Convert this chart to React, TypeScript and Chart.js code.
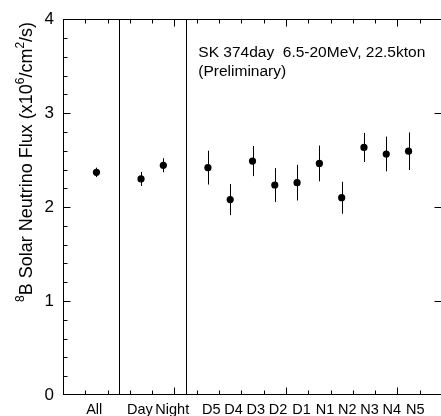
import React, { useEffect, useRef } from "react";
import { Chart, registerables } from "chart.js";

Chart.register(...registerables);

const categories = ["All", "Day", "Night", "D5", "D4", "D3", "D2", "D1", "N1", "N2", "N3", "N4", "N5"];
const xPositions = [1.5, 3.5, 4.5, 6.5, 7.5, 8.5, 9.5, 10.5, 11.5, 12.5, 13.5, 14.5, 15.5];
const labelPositions = [1.4, 3.45, 4.9, 6.65, 7.65, 8.65, 9.65, 10.7, 11.75, 12.75, 13.75, 14.75, 15.8];
const flux = [2.37, 2.3, 2.445, 2.42, 2.08, 2.49, 2.235, 2.26, 2.465, 2.1, 2.635, 2.565, 2.595];
const fluxErr = [0.05, 0.075, 0.075, 0.18, 0.165, 0.16, 0.18, 0.19, 0.19, 0.17, 0.155, 0.185, 0.2];
const separators = [2.5, 5.5];
const yTicks = [0, 1, 2, 3, 4];
const annotation = ["SK 374day  6.5-20MeV, 22.5kton", "(Preliminary)"];
const titleParts: [string, boolean][] = [
  ["8", true],
  ["B Solar Neutrino Flux (x10", false],
  ["6", true],
  ["/cm", false],
  ["2", true],
  ["/s)", false],
];

const FONT = "'Liberation Sans', Arial, Helvetica, sans-serif";

const framePlugin = {
  id: "framePlugin",
  beforeDatasetsDraw(chart: any) {
    const { ctx, chartArea: a, scales } = chart;
    const xs = scales.x;
    const ys = scales.y;
    ctx.save();
    ctx.strokeStyle = "#000";
    ctx.lineWidth = 1;
    separators.forEach((v) => {
      const px = Math.round(xs.getPixelForValue(v)) + 0.5;
      ctx.beginPath();
      ctx.moveTo(px, a.top);
      ctx.lineTo(px, a.bottom);
      ctx.stroke();
    });
    xPositions.forEach((xv, i) => {
      const px = Math.round(xs.getPixelForValue(xv)) + 0.5;
      ctx.beginPath();
      ctx.moveTo(px, ys.getPixelForValue(flux[i] + fluxErr[i]));
      ctx.lineTo(px, ys.getPixelForValue(flux[i] - fluxErr[i]));
      ctx.stroke();
    });
    ctx.restore();
  },
  afterDraw(chart: any) {
    const { ctx, chartArea: a, scales } = chart;
    const xs = scales.x;
    const ys = scales.y;
    ctx.save();
    ctx.strokeStyle = "#000";
    ctx.lineWidth = 1;
    const L = Math.round(a.left) + 0.5;
    const R = Math.round(a.right) - 0.5;
    const T = Math.round(a.top) + 0.5;
    const B = Math.round(a.bottom) - 0.5;
    ctx.strokeRect(L, T, R - L, B - T);
    ctx.beginPath();
    for (let i = 1; i < 17; i++) {
      const px = Math.round(xs.getPixelForValue(i)) + 0.5;
      const len = i % 5 === 0 ? 7 : 4;
      ctx.moveTo(px, B);
      ctx.lineTo(px, B - len);
      ctx.moveTo(px, T);
      ctx.lineTo(px, T + len);
    }
    for (let k = 1; k < 20; k++) {
      const v = k * 0.2;
      const py = Math.round(ys.getPixelForValue(v)) + 0.5;
      const major = k % 5 === 0;
      const len = major ? 7 : 4;
      ctx.moveTo(L, py);
      ctx.lineTo(L + len, py);
      if (major) {
        ctx.moveTo(R, py);
        ctx.lineTo(R - len, py);
      }
    }
    ctx.stroke();

    // annotation
    ctx.fillStyle = "#000";
    ctx.font = `15.5px ${FONT}`;
    ctx.textBaseline = "alphabetic";
    ctx.textAlign = "left";
    const ax = xs.getPixelForValue(6.07);
    const ay = ys.getPixelForValue(3.6);
    annotation.forEach((t, i) => ctx.fillText(t, ax, ay + i * 19));

    // y title with superscripts
    const size = 18;
    const supSize = 12;
    ctx.translate(32, 302);
    ctx.rotate(-Math.PI / 2);
    let cx = 0;
    titleParts.forEach(([t, sup]) => {
      ctx.font = `${sup ? supSize : size}px ${FONT}`;
      ctx.fillText(t, cx, sup ? -8 : 0);
      cx += ctx.measureText(t).width;
    });
    ctx.restore();
  },
};

export default function App() {
  const ref = useRef<HTMLCanvasElement>(null);
  useEffect(() => {
    if (!ref.current) return;
    const chart = new Chart(ref.current, {
      type: "scatter",
      data: {
        datasets: [
          {
            label: "flux",
            data: xPositions.map((x, i) => ({ x, y: flux[i] })),
            pointRadius: 3.6,
            pointBackgroundColor: "#000",
            pointBorderColor: "#000",
            pointBorderWidth: 0,
          },
        ],
      },
      options: {
        animation: false,
        responsive: false,
        devicePixelRatio: 1,
        layout: { padding: { top: 13, right: 1, left: 0, bottom: 0 } },
        plugins: { legend: { display: false }, tooltip: { enabled: false } },
        scales: {
          x: {
            type: "linear",
            min: 0,
            max: 17,
            grid: { display: false, drawTicks: false },
            border: { display: false },
            afterBuildTicks: (s: any) => {
              s.ticks = labelPositions.map((v) => ({ value: v }));
            },
            afterFit: (s: any) => {
              s.height = 21;
            },
            ticks: {
              autoSkip: false,
              maxRotation: 0,
              padding: 6,
              color: "#000",
              font: { family: FONT, size: 14.5 },
              callback: (_v: any, i: number) => categories[i],
            },
          },
          y: {
            type: "linear",
            min: 0,
            max: 4,
            grid: { display: false, drawTicks: false },
            border: { display: false },
            afterBuildTicks: (s: any) => {
              s.ticks = yTicks.map((v) => ({ value: v }));
            },
            afterFit: (s: any) => {
              s.width = 63;
            },
            ticks: {
              padding: 9,
              color: "#000",
              font: { family: FONT, size: 17 },
            },
          },
        },
      },
      plugins: [framePlugin],
    });
    return () => chart.destroy();
  }, []);
  return (
    <div style={{ position: "fixed", left: 0, top: 0, width: 446, height: 416, background: "#fff" }}>
      <canvas ref={ref} width={446} height={416} style={{ display: "block" }} />
    </div>
  );
}
